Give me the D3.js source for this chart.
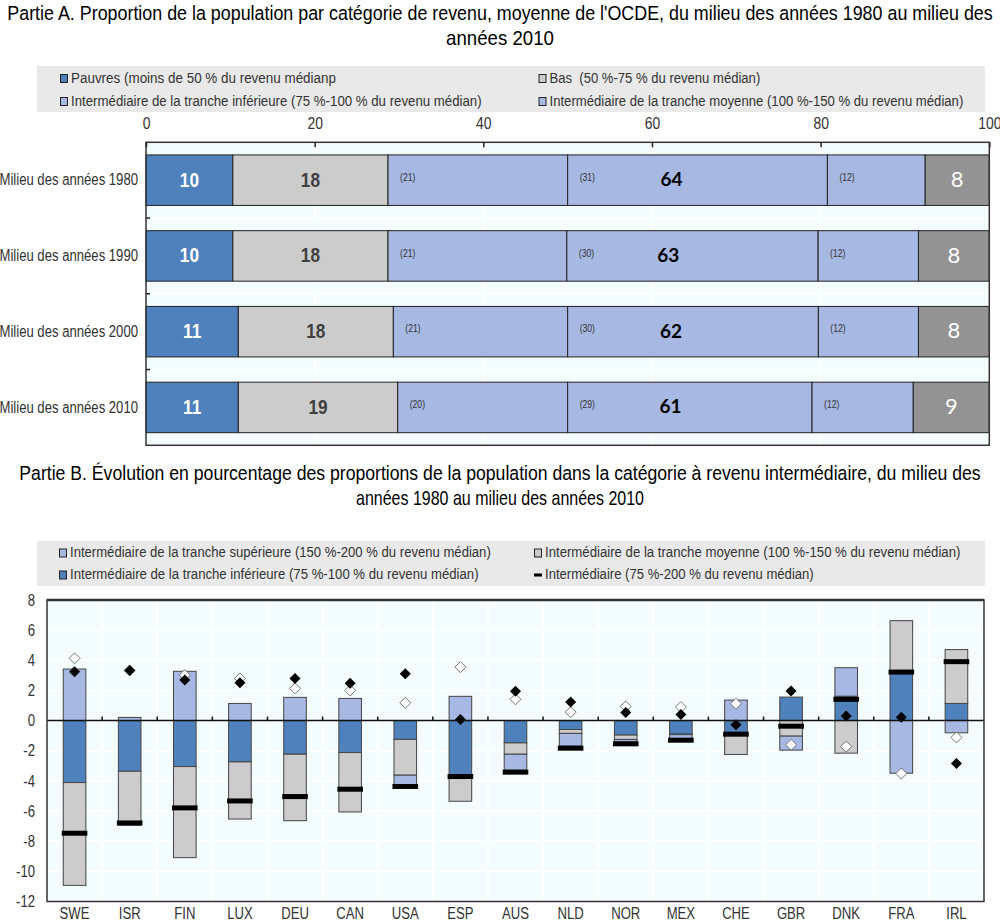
<!DOCTYPE html>
<html><head><meta charset="utf-8">
<script src="https://cdn.jsdelivr.net/npm/d3@7"></script>
<style>
body{margin:0;background:#fff}
svg{display:block}
text{font-family:"Liberation Sans",Arial,sans-serif;white-space:pre}
text.lato{font-family:Lato,"Liberation Sans",sans-serif}
</style>
</head><body>
<svg id="c" width="1000" height="921"></svg>
<script>
// ---------- Part A data ----------
const periods = ["Milieu des années 1980","Milieu des années 1990","Milieu des années 2000","Milieu des années 2010"];
const pauvres  = [10.3, 10.3, 10.95, 10.95];
const bas      = [18.4, 18.4, 18.38, 18.9];
const interInf = [21.3, 21.2, 20.67, 20.15];
const interMoy = [30.8, 29.8, 29.73, 28.98];
const interSup = [11.6, 11.9, 11.87, 12.0];
const riches   = [7.6, 8.4, 8.4, 9.02];
const xTicksA  = [0, 20, 40, 60, 80, 100];
const legendA  = ["Pauvres (moins de 50 % du revenu médianp","Bas  (50 %-75 % du revenu médian)",
                  "Intermédiaire de la tranche inférieure (75 %-100 % du revenu médian)","Intermédiaire de la tranche moyenne (100 %-150 % du revenu médian)"];

// ---------- Part B data ----------
const countries = ["SWE","ISR","FIN","LUX","DEU","CAN","USA","ESP","AUS","NLD","NOR","MEX","CHE","GBR","DNK","FRA","IRL"];
const chgSup   = [3.42, 0.21, 3.27, 1.14, 1.54, 1.47, -0.67, 1.61, -1.06, -0.84, -0.16, -0.26, 1.36, -0.93, 1.89, -3.49, -0.81];
const chgMoy   = [-6.82, -3.58, -6.04, -3.79, -4.41, -3.94, -2.37, -1.71, -0.75, -0.26, -0.29, -0.03, -1.35, -1.03, -2.16, 3.41, 3.57];
const chgInf   = [-4.11, -3.36, -3.05, -2.74, -2.23, -2.12, -1.25, -3.64, -1.48, -0.59, -0.96, -0.90, -0.90, 1.56, 1.62, 3.22, 1.14];
const chgTotal = [-7.47, -6.79, -5.79, -5.33, -5.04, -4.55, -4.37, -3.71, -3.42, -1.83, -1.54, -1.30, -0.90, -0.37, 1.41, 3.22, 3.91];
const diamondBlack = [3.24, 3.33, 2.69, 2.51, 2.80, 2.47, 3.11, 0.08, 1.94, 1.23, 0.54, 0.41, -0.28, 1.96, 0.30, 0.23, -2.85];
const diamondWhite = [4.13, 3.33, 3.02, 2.80, 2.14, 2.00, 1.18, 3.55, 1.41, 0.56, 0.94, 0.90, 1.12, -1.61, -1.72, -3.51, -1.12];
const yTicksB = [-12, -10, -8, -6, -4, -2, 0, 2, 4, 6, 8];
const legendB = ["Intermédiaire de la tranche supérieure (150 %-200 % du revenu médian)","Intermédiaire de la tranche moyenne (100 %-150 % du revenu médian)",
                 "Intermédiaire de la tranche inférieure (75 %-100 % du revenu médian)","Intermédiaire (75 %-200 % du revenu médian)"];

const C = {poor:"#4f81bd", low:"#cccccc", mid:"#a7b9e3", rich:"#939393", bg:"#f3fdfd", frame:"#333", legendBg:"#e9e9e9", text:"#333"};
const fmt = d3.format(".0f");
const svg = d3.select("#c");
const SQ = 0.82; // narrow-font emulation

// ---------- Titles ----------
function title(lines, y0, widths){
  lines.forEach((t,i)=>svg.append("text").attr("x",500).attr("y",y0+i*25).attr("text-anchor","middle")
    .attr("dominant-baseline","middle").attr("font-size",20.5).attr("fill","#000")
    .attr("data-w",widths[i]).text(t));
}
title(["Partie A. Proportion de la population par catégorie de revenu, moyenne de l'OCDE, du milieu des années 1980 au milieu des","années 2010"], 15, [986,108]);
title(["Partie B. Évolution en pourcentage des proportions de la population dans la catégorie à revenu intermédiaire, du milieu des","années 1980 au milieu des années 2010"], 475, [962,288]);

// ---------- Legend helper ----------
function legend(y0, h, items, rows){
  svg.append("rect").attr("x",37).attr("y",y0).attr("width",948).attr("height",h).attr("fill",C.legendBg);
  rows.forEach(r=>{
    const g = svg.append("g");
    if(r.type==="dash"){
      g.append("rect").attr("x",r.x).attr("y",r.y-1.5).attr("width",8).attr("height",3).attr("fill","#000");
    } else {
      g.append("rect").attr("x",r.x+0.5).attr("y",r.y-4).attr("width",7).attr("height",8).attr("fill",r.color).attr("stroke","#222").attr("stroke-width",1);
    }
    g.append("text").attr("x",r.x+11).attr("y",r.y).attr("dominant-baseline","middle").attr("font-size",15.5)
      .attr("fill",C.text).attr("data-w",r.w).text(items[r.i]);
  });
}
legend(66, 46, legendA, [
  {i:0,x:60,y:78.5,color:C.poor,w:265},{i:1,x:538.5,y:78.5,color:C.low,w:211},
  {i:2,x:60,y:101.5,color:C.mid,w:411},{i:3,x:538.5,y:101.5,color:C.mid,w:414}]);
legend(541, 45, legendB, [
  {i:0,x:59,y:553,color:C.mid,w:421},{i:1,x:534,y:553,color:C.low,w:416},
  {i:2,x:59,y:575,color:C.poor,w:409},{i:3,x:534,y:575,type:"dash",w:269}]);

// ---------- Part A chart ----------
const A = {l:146, r:989.3, t:142.3, b:445.3};
const xA = d3.scaleLinear().domain([0,100]).range([A.l, A.r]);
const yA = d3.scaleBand().domain(periods).range([A.t, A.b]).paddingInner(1/3).paddingOuter(1/6);
svg.append("rect").attr("x",A.l).attr("y",A.t).attr("width",A.r-A.l).attr("height",A.b-A.t).attr("fill",C.bg);
svg.append("g").selectAll("line").data(xTicksA.slice(1,-1)).join("line")
  .attr("x1",d=>xA(d)).attr("x2",d=>xA(d)).attr("y1",A.t).attr("y2",A.b).attr("stroke","#fff").attr("stroke-width",1.5);
const bandStep = yA.step();
svg.append("g").selectAll("line").data(periods).join("line")
  .attr("x1",A.l).attr("x2",A.r).attr("y1",d=>yA(d)-bandStep/6).attr("y2",d=>yA(d)-bandStep/6).attr("stroke","#fff").attr("stroke-width",1.5);

const segKeys = ["pauvres","bas","interInf","interMoy","interSup","riches"];
const segVals = {pauvres, bas, interInf, interMoy, interSup, riches};
const segCol = {pauvres:C.poor, bas:C.low, interInf:C.mid, interMoy:C.mid, interSup:C.mid, riches:C.rich};
const rowsA = periods.map((p,i)=>{const o={period:p}; segKeys.forEach(k=>o[k]=segVals[k][i]); return o;});
const stackA = d3.stack().keys(segKeys)(rowsA);
const gA = svg.append("g");
stackA.forEach(layer=>{
  gA.append("g").selectAll("rect").data(layer).join("rect")
    .attr("x",d=>xA(d[0])).attr("width",d=>xA(d[1])-xA(d[0]))
    .attr("y",d=>yA(d.data.period)).attr("height",yA.bandwidth())
    .attr("fill",segCol[layer.key]).attr("stroke","#222").attr("stroke-width",1);
});
stackA.forEach(layer=>{
  const k = layer.key;
  const sel = gA.append("g").selectAll("text").data(layer).join("text")
    .attr("dominant-baseline","middle");
  if(k==="pauvres"||k==="bas"){
    sel.attr("x",d=>(xA(d[0])+xA(d[1]))/2).attr("y",d=>yA(d.data.period)+yA.bandwidth()/2+1)
      .attr("text-anchor","middle").attr("font-size",21).attr("font-weight","bold")
      .attr("fill",k==="pauvres"?"#fff":"#404040").text(d=>fmt(d[1]-d[0]));
  } else if(k==="riches"){
    sel.attr("class","lato nocond").attr("x",d=>(xA(d[0])+xA(d[1]))/2).attr("y",d=>yA(d.data.period)+yA.bandwidth()/2+1)
      .attr("text-anchor","middle").attr("font-size",22).attr("font-weight",400)
      .attr("fill","#fff").text(d=>fmt(d[1]-d[0]));
  } else {
    sel.attr("x",d=>xA(d[0])+12).attr("y",d=>yA(d.data.period)+yA.bandwidth()/2-2)
      .attr("font-size",10.5).attr("fill","#333").text(d=>"("+fmt(d[1]-d[0])+")");
  }
});
gA.append("g").selectAll("text").data(rowsA).join("text")
  .attr("class","lato nocond")
  .attr("x",d=>(xA(d.pauvres+d.bas)+xA(d.pauvres+d.bas+d.interInf+d.interMoy+d.interSup))/2+15)
  .attr("y",d=>yA(d.period)+yA.bandwidth()/2+1).attr("text-anchor","middle").attr("dominant-baseline","middle")
  .attr("font-size",19).attr("font-weight","bold").attr("fill","#000")
  .text(d=>fmt(d.interInf+d.interMoy+d.interSup));
svg.append("rect").attr("x",A.l).attr("y",A.t).attr("width",A.r-A.l).attr("height",A.b-A.t).attr("fill","none").attr("stroke",C.frame).attr("stroke-width",1.5);
const axA = svg.append("g").attr("transform",`translate(0,${A.t})`)
  .call(d3.axisTop(xA).tickValues(xTicksA).tickSize(-5).tickPadding(13).tickFormat(d=>String(d)));
axA.select(".domain").remove();
axA.selectAll("line").attr("stroke","#222").attr("stroke-width",1.5);
axA.selectAll("text").attr("font-size",17).attr("fill",C.text).attr("font-family",null);
const ayA = svg.append("g").attr("transform",`translate(${A.l},0)`).call(d3.axisLeft(yA).tickSize(0).tickPadding(8));
ayA.select(".domain").remove();
ayA.selectAll("text").attr("font-size",16).attr("fill",C.text).attr("font-family",null);
svg.append("g").selectAll("line").data(periods.slice(1)).join("line")
  .attr("x1",A.l).attr("x2",A.l+4).attr("y1",d=>yA(d)-bandStep/6).attr("y2",d=>yA(d)-bandStep/6).attr("stroke","#222").attr("stroke-width",1.5);

// ---------- Part B chart ----------
const B = {l:47, r:984, t:600, b:901.5};
const xB = d3.scaleBand().domain(countries).range([B.l, B.r]).paddingInner(0.59).paddingOuter(0.295);
const xBand = d3.scaleBand().domain(countries).range([B.l, B.r]);
const yB = d3.scaleLinear().domain([-12, 8]).range([B.b, B.t]);
svg.append("rect").attr("x",B.l).attr("y",B.t).attr("width",B.r-B.l).attr("height",B.b-B.t).attr("fill",C.bg);
svg.append("g").selectAll("line").data(yTicksB).join("line")
  .attr("x1",B.l).attr("x2",B.r).attr("y1",d=>yB(d)).attr("y2",d=>yB(d)).attr("stroke","#fff").attr("stroke-width",1.5);
svg.append("g").selectAll("line").data(countries.slice(1)).join("line")
  .attr("x1",d=>xBand(d)).attr("x2",d=>xBand(d)).attr("y1",B.t).attr("y2",B.b).attr("stroke","#fff").attr("stroke-width",1.5);

const keysB = ["inf","moy","sup"];
const rowsB = countries.map((c,i)=>({c, inf:chgInf[i], moy:chgMoy[i], sup:chgSup[i], tot:chgTotal[i], bd:diamondBlack[i], wd:diamondWhite[i]}));
const stackB = d3.stack().keys(keysB).offset(d3.stackOffsetDiverging)(rowsB);
const colB = {inf:C.poor, moy:C.low, sup:C.mid};
const gB = svg.append("g");
stackB.forEach(layer=>{
  gB.append("g").selectAll("rect").data(layer).join("rect")
    .attr("x",d=>xB(d.data.c)).attr("width",xB.bandwidth())
    .attr("y",d=>yB(Math.max(d[0],d[1]))).attr("height",d=>Math.abs(yB(d[0])-yB(d[1])))
    .attr("fill",colB[layer.key]).attr("stroke","#444").attr("stroke-width",1);
});
svg.append("line").attr("x1",B.l).attr("x2",B.r).attr("y1",yB(0)).attr("y2",yB(0)).attr("stroke","#111").attr("stroke-width",1.5);
svg.append("g").selectAll("line").data(countries.slice(1)).join("line")
  .attr("x1",d=>xBand(d)).attr("x2",d=>xBand(d)).attr("y1",yB(0)).attr("y2",yB(0)-4).attr("stroke","#111").attr("stroke-width",1.5);
gB.append("g").selectAll("rect").data(rowsB).join("rect")
  .attr("x",d=>xB(d.c)-1.5).attr("width",xB.bandwidth()+3)
  .attr("y",d=>yB(d.tot)-2.5).attr("height",5).attr("fill","#000");
const dsz = 5.5;
const diamond = (cx,cy)=>`M${cx},${cy-dsz}L${cx+dsz},${cy}L${cx},${cy+dsz}L${cx-dsz},${cy}Z`;
gB.append("g").selectAll("path").data(rowsB).join("path")
  .attr("d",d=>diamond(xB(d.c)+xB.bandwidth()/2, yB(d.wd))).attr("fill","#fff").attr("stroke","#555").attr("stroke-width",0.8);
gB.append("g").selectAll("path").data(rowsB).join("path")
  .attr("d",d=>diamond(xB(d.c)+xB.bandwidth()/2, yB(d.bd))).attr("fill","#000");
svg.append("rect").attr("x",B.l).attr("y",B.t).attr("width",B.r-B.l).attr("height",B.b-B.t).attr("fill","none").attr("stroke",C.frame).attr("stroke-width",1.5);
svg.append("line").attr("x1",B.l).attr("x2",B.r).attr("y1",B.t).attr("y2",B.t).attr("stroke",C.frame).attr("stroke-width",2.5);
const ayB = svg.append("g").attr("transform",`translate(${B.l},0)`).call(d3.axisLeft(yB).tickValues(yTicksB).tickSize(0).tickPadding(12).tickFormat(d=>String(d)));
ayB.select(".domain").remove();
ayB.selectAll("text").attr("font-size",16).attr("fill",C.text).attr("font-family",null);
const axB = svg.append("g").attr("transform",`translate(0,${B.b})`).call(d3.axisBottom(xBand).tickSize(0).tickPadding(6));
axB.select(".domain").remove();
axB.selectAll("text").attr("font-size",16).attr("fill",C.text).attr("font-family",null);

// ---------- narrow-font emulation (horizontal scale about the anchor x) ----------
svg.selectAll("text").each(function(){
  const el = d3.select(this);
  if(el.classed("nocond")) return;
  const natural = this.getComputedTextLength();
  const target = el.attr("data-w");
  const s = target ? (+target)/natural : SQ;
  const x = +(this.getAttribute("x") || 0);
  el.attr("transform", `translate(${x},0) scale(${s},1) translate(${-x},0)`);
});
</script>
</body></html>
